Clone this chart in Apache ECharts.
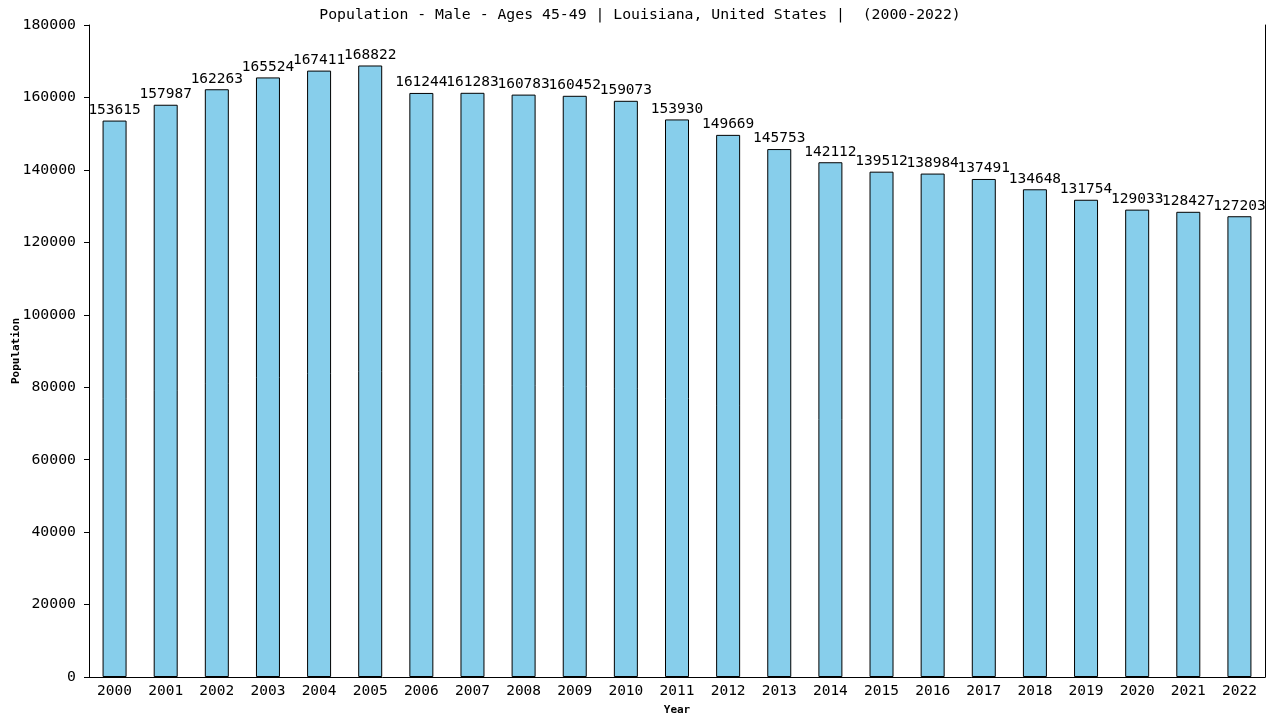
<!DOCTYPE html>
<html>
<head>
<meta charset="utf-8">
<script src="https://cdn.jsdelivr.net/npm/echarts@6/dist/echarts.min.js"></script>
<style>html,body{margin:0;padding:0;background:#fff}#c{width:1280px;height:720px}</style>
</head>
<body>
<div id="c"></div>
<script>
const years = ['2000','2001','2002','2003','2004','2005','2006','2007','2008','2009','2010','2011','2012','2013','2014','2015','2016','2017','2018','2019','2020','2021','2022'];
const population = [153615,157987,162263,165524,167411,168822,161244,161283,160783,160452,159073,153930,149669,145753,142112,139512,138984,137491,134648,131754,129033,128427,127203];
const yTicks = [0,20000,40000,60000,80000,100000,120000,140000,160000,180000];
const titleText = 'Population - Male - Ages 45-49 | Louisiana, United States |  (2000-2022)';
const font = '"DejaVu Sans Mono", monospace';

const chart = echarts.init(document.getElementById('c'));
chart.setOption({
  animation: false,
  backgroundColor: '#fff',
  title: {
    text: titleText, left: 'center', top: 3,
    textStyle: {fontFamily: font, fontSize: 14.8, fontWeight: 'normal', color: '#000'}
  },
  grid: {left: 89, right: 15, top: 25, bottom: 43, containLabel: false, outerBoundsMode: 'none'},
  xAxis: {
    type: 'category', data: years,
    name: 'Year', nameLocation: 'middle', nameGap: 28, nameMoveOverlap: false,
    nameTextStyle: {fontFamily: font, fontSize: 11, fontWeight: 'bold', color: '#000'},
    axisLine: {lineStyle: {color: '#000', width: 1}},
    axisTick: {show: false},
    axisLabel: {fontFamily: font, fontSize: 14.5, color: '#000', margin: 7}
  },
  yAxis: [{
    type: 'value', min: 0, max: 180000, interval: 20000,
    name: 'Population', nameLocation: 'middle', nameGap: 67, nameRotate: 90, nameMoveOverlap: false,
    nameTextStyle: {fontFamily: font, fontSize: 11, fontWeight: 'bold', color: '#000'},
    axisLine: {show: true, lineStyle: {color: '#000', width: 1}},
    axisTick: {show: true, length: 5, lineStyle: {color: '#000'}},
    splitLine: {show: false},
    axisLabel: {fontFamily: font, fontSize: 14.8, color: '#000', margin: 13,
      formatter: v => yTicks.includes(v) ? String(v) : ''}
  }, {
    type: 'value', min: 0, max: 180000, interval: 20000, position: 'right',
    axisLine: {show: true, lineStyle: {color: '#000', width: 1}},
    axisTick: {show: false}, axisLabel: {show: false}, splitLine: {show: false}
  }],
  series: [{
    type: 'bar', data: population, barWidth: 24,
    itemStyle: {color: '#87CEEB', borderColor: '#000', borderWidth: 1},
    label: {show: true, position: 'top', distance: 3, color: '#000',
      fontFamily: font, fontSize: 14.5}
  }]
});
</script>
</body>
</html>
